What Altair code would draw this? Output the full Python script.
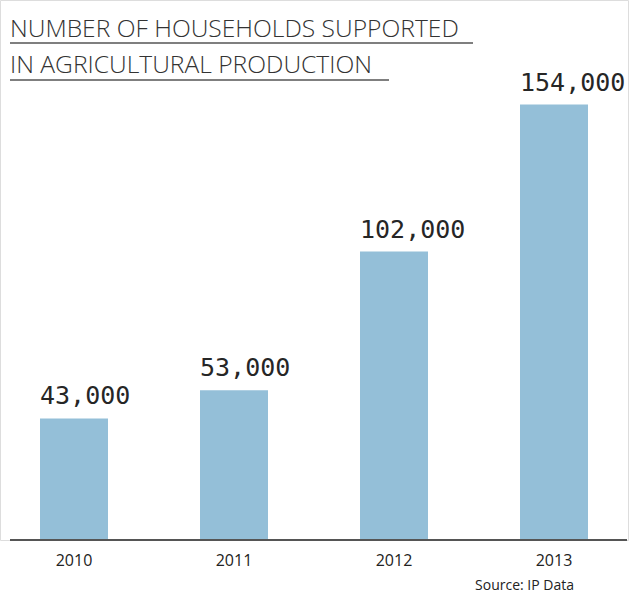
import altair as alt
import pandas as pd

years = ["2010", "2011", "2012", "2013"]
households = [43000, 53000, 102000, 154000]
labels = ["43,000", "53,000", "102,000", "154,000"]
title_lines = ["NUMBER OF HOUSEHOLDS SUPPORTED", "IN AGRICULTURAL PRODUCTION"]
source = "Source: IP Data"

df = pd.DataFrame({"year": years, "value": households, "label": labels})
one = pd.DataFrame({"k": [0]})

xs = alt.X("year:N", sort=years,
           scale=alt.Scale(paddingInner=0.575, paddingOuter=0.25),
           axis=alt.Axis(title=None, labelAngle=0, domain=False, ticks=False,
                         labelPadding=12, labelFontSize=16, labelFont="Open Sans",
                         labelColor="#222222"))
ys = alt.Y("value:Q", scale=alt.Scale(domain=[0, 191000], nice=False, zero=True),
           axis=None)

bars = alt.Chart(df).mark_bar(color="#94bfd8").encode(x=xs, y=ys)

vals = alt.Chart(df).mark_text(
    align="left", baseline="alphabetic", dy=-14,
    font="DejaVu Sans Mono", fontSize=25, color="#262626"
).encode(x=alt.X("year:N", sort=years, bandPosition=0), y=ys, text="label:N")

base_rule = alt.Chart(one).mark_rule(color="#555555", strokeWidth=2).encode(
    x=alt.value(10), x2=alt.value(627), y=alt.value(540))

def title_line(txt, ty, uy, ux2):
    t = alt.Chart(one).mark_text(
        align="left", baseline="alphabetic", font="Open Sans", fontSize=24.6,
        fontWeight=300, color="#333333", text=txt
    ).encode(x=alt.value(10), y=alt.value(ty))
    u = alt.Chart(one).mark_rule(color="#555555", strokeWidth=1.5).encode(
        x=alt.value(10), x2=alt.value(ux2), y=alt.value(uy))
    return [t, u]

layers = [bars, vals, base_rule]
layers += title_line(title_lines[0], 37, 43, 473)
layers += title_line(title_lines[1], 73, 80, 389)

src = alt.Chart(one).mark_text(
    align="right", baseline="alphabetic", font="Open Sans", fontSize=14,
    color="#222222", text=source
).encode(x=alt.value(574), y=alt.value(590))
layers.append(src)

chart = alt.layer(*layers).properties(
    width=628, height=540,
    autosize=alt.AutoSizeParams(type="none"),
    padding={"left": 0, "top": 0, "right": 3, "bottom": 56},
).configure_view(stroke=None).configure(background="white")

chart.save("out.html", embed_options={"renderer": "svg", "actions": False})
